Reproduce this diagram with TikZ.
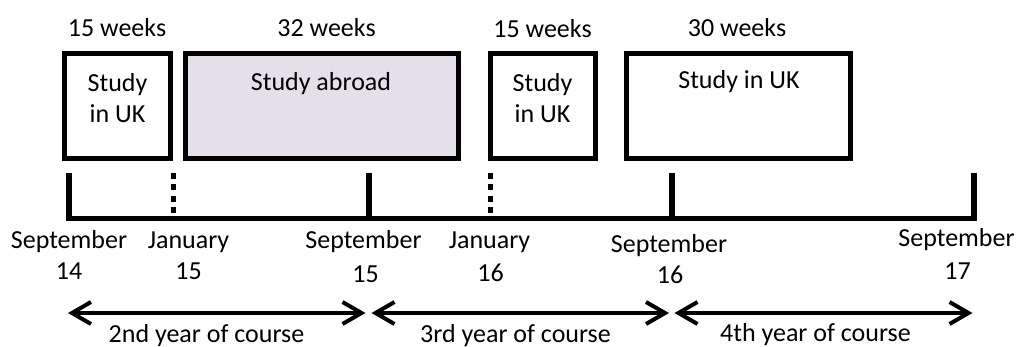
\documentclass[tikz,border=0pt]{standalone}
\usepackage{fontspec}
\setmainfont{Carlito}
\usetikzlibrary{arrows.meta}
\definecolor{lav}{HTML}{E5DFEC}
\begin{document}
\begin{tikzpicture}[x=1pt,y=-1pt,
  box/.style={draw, line width=5pt, inner sep=0pt, outer sep=0pt, minimum height=105pt},
  txt/.style={font=\fontsize{26}{31}\selectfont, inner sep=0pt, anchor=base, align=center},
  tickline/.style={line width=5.5pt},
  dotline/.style={line width=5pt, dash pattern=on 6pt off 5.5pt},
  yr/.style={line width=4pt, {Straight Barb[length=19pt,width=22pt]}-{Straight Barb[length=19pt,width=22pt]}}
]
\useasboundingbox (0,0) rectangle (1019,347);

% boxes
\node[box, minimum width=106pt] (b1) at (117.5,106) {};
\node[box, fill=lav, minimum width=273pt] (b2) at (322,106) {};
\node[box, minimum width=105pt] (b3) at (543,106) {};
\node[box, minimum width=224pt] (b4) at (738.5,106) {};

% box texts (base anchor = baseline of last line)
\node[txt] (t1) at (117.5,123) {Study\\in UK};
\node[txt] (t2) at (321,91) {Study abroad};
\node[txt] (t3) at (542.5,123) {Study\\in UK};
\node[txt] (t4) at (739,89) {Study in UK};

% durations
\node[txt] (w1) at (117,37) {15 weeks};
\node[txt] (w2) at (326.5,37) {32 weeks};
\node[txt] (w3) at (542.5,38) {15 weeks};
\node[txt] (w4) at (737,37) {30 weeks};

% timeline
\coordinate (s14top) at (69,173);
\coordinate (s14) at (69,218.5);
\coordinate (j15top) at (173,173);
\coordinate (j15) at (173,218.5);
\coordinate (s15top) at (369,173);
\coordinate (s15) at (369,218.5);
\coordinate (j16top) at (490,173);
\coordinate (j16) at (490,218.5);
\coordinate (s16top) at (672,173);
\coordinate (s16) at (672,218.5);
\coordinate (s17top) at (974,173);
\coordinate (s17) at (974,218.5);
\draw[tickline] (s14top) -- (s14) -- (s17) -- (s17top);
\draw[dotline] (j15top) -- (j15);
\draw[tickline] (s15top) -- (s15);
\draw[dotline] (j16top) -- (j16);
\draw[tickline] (s16top) -- (s16);

% dates
\node[txt] (m1) at (69,248) {September};
\node[txt] (y1) at (69,279) {14};
\node[txt] (m2) at (188.5,248) {January};
\node[txt] (y2) at (188.5,279) {15};
\node[txt] (m3) at (363.5,248) {September};
\node[txt] (y3) at (365.5,282) {15};
\node[txt] (m4) at (489.5,248) {January};
\node[txt] (y4) at (490.5,281) {16};
\node[txt] (m5) at (669,252) {September};
\node[txt] (y5) at (670,283) {16};
\node[txt] (m6) at (956.5,246.5) {September};
\node[txt] (y6) at (957.5,279) {17};

% year arrows
\coordinate (a1) at (68,313);
\coordinate (a2) at (365.5,313);
\coordinate (a3) at (371.5,313);
\coordinate (a4) at (669,313);
\coordinate (a5) at (674.5,313);
\coordinate (a6) at (972.5,313);
\draw[yr] (a1) -- (a2);
\draw[yr] (a3) -- (a4);
\draw[yr] (a5) -- (a6);
\node[txt] (c1) at (206.5,342) {2nd year of course};
\node[txt] (c2) at (515.5,342) {3rd year of course};
\node[txt] (c3) at (815.5,341) {4th year of course};
\end{tikzpicture}
\end{document}
